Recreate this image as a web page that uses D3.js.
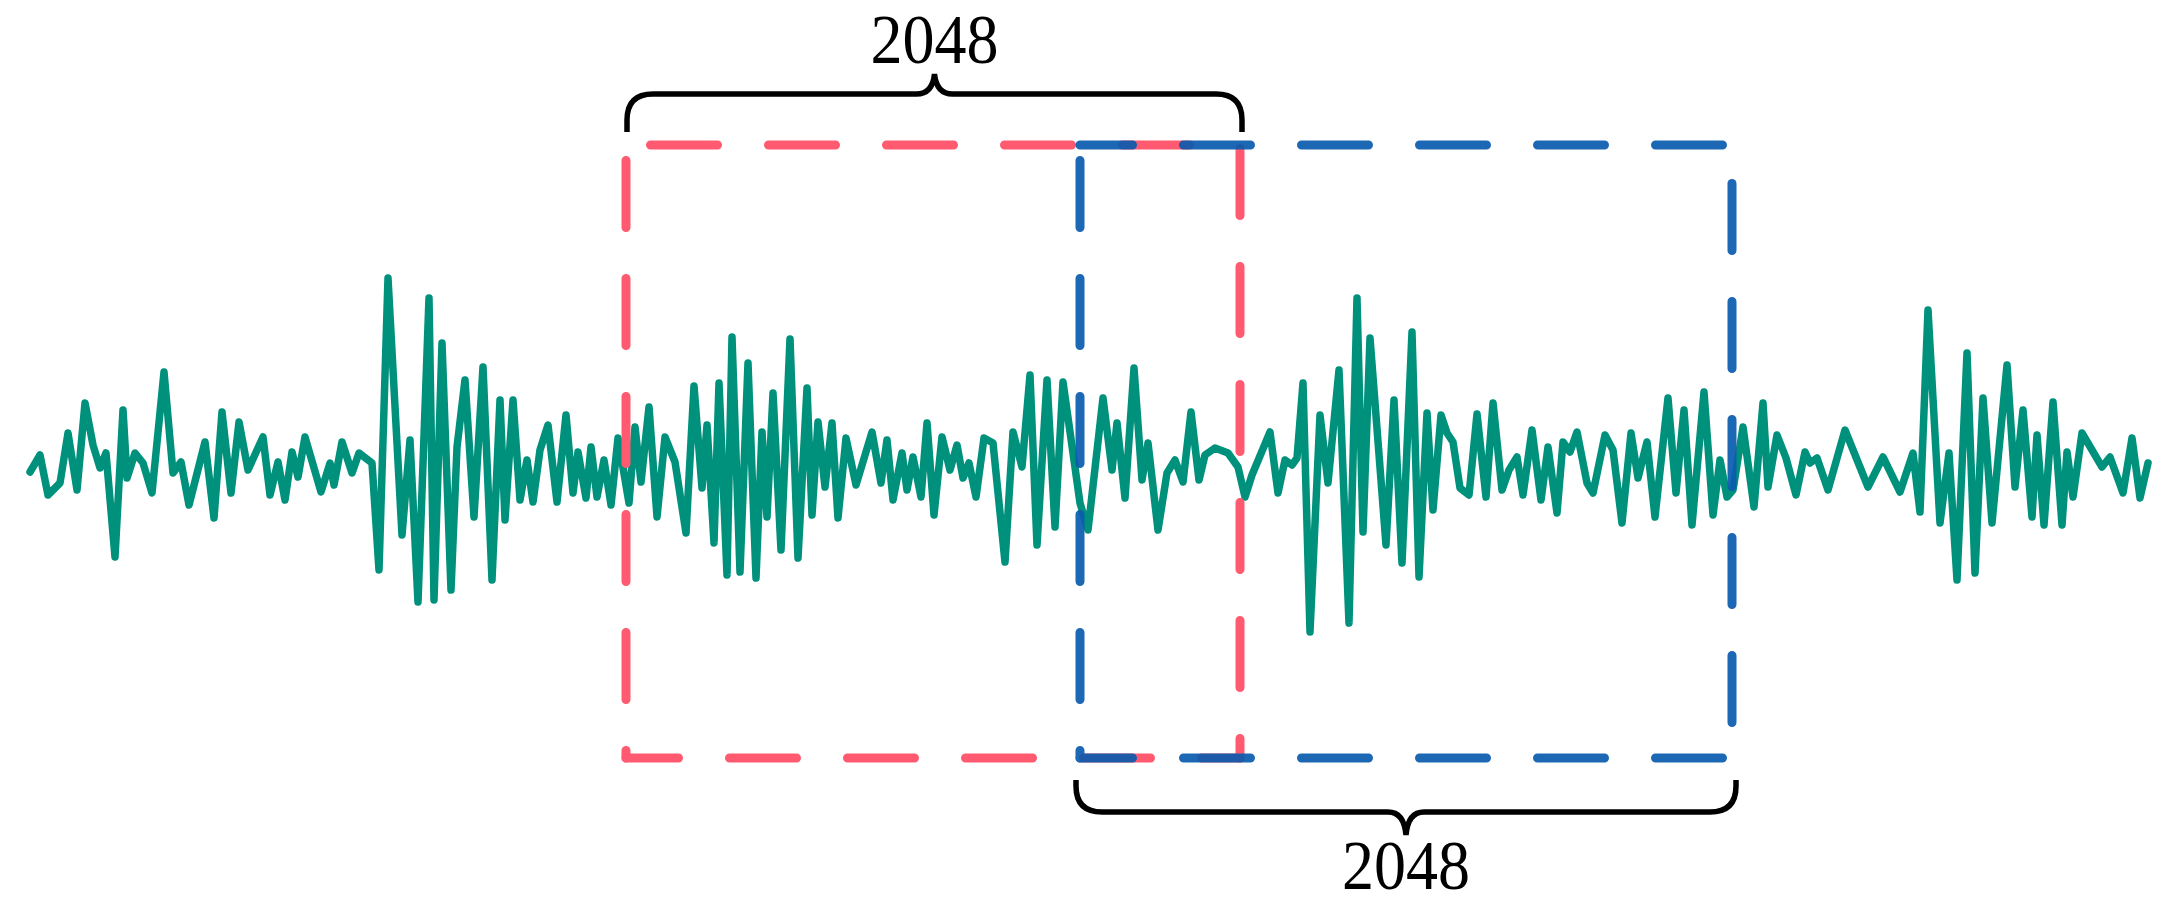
<!doctype html>
<html lang="en">
<head>
<meta charset="utf-8">
<script src="https://cdnjs.cloudflare.com/ajax/libs/d3/7.8.5/d3.min.js"></script>
<style>
  html, body { margin: 0; padding: 0; background: #fff; }
  svg { display: block; }
  .label { font-family: 'Liberation Serif', 'Times New Roman', serif; font-size: 69px; fill: #000; }
</style>
</head>
<body>
<script>

// signal (time in samples, amplitude in arbitrary units)
const sampleT = [0, 10, 18, 30, 38, 47, 55, 63, 70, 76, 85, 93, 97, 105, 113, 122, 134, 143, 151, 159,
  175, 184, 192, 201, 209, 218, 233, 240, 248, 255, 262, 268, 275, 291, 300, 304, 312, 322, 329, 342,
  349, 358, 372, 380, 388, 399, 404, 412, 421, 427, 435, 444, 453, 462, 470, 475, 483, 490, 497, 503,
  510, 518, 527, 536, 543, 548, 556, 561, 567, 574, 581, 588, 599, 605, 611, 619, 627, 635, 645, 656,
  664, 672, 677, 684, 689, 697, 702, 710, 718, 726, 732, 737, 743, 751, 760, 768, 777, 782, 788, 795,
  802, 808, 816, 826, 842, 851, 857, 863, 872, 877, 883, 891, 897, 904, 912, 920, 927, 933, 939, 946,
  954, 963, 975, 983, 992, 1000, 1007, 1017, 1025, 1033, 1050, 1058, 1073, 1082, 1087, 1095, 1104, 1112, 1118, 1128,
  1137, 1145, 1153, 1161, 1169, 1175, 1185, 1198, 1208, 1215, 1222, 1240, 1248, 1255, 1262, 1267, 1273, 1280, 1290, 1298,
  1309, 1319, 1327, 1333, 1340, 1356, 1364, 1372, 1382, 1389, 1397, 1403, 1411, 1417, 1423, 1430, 1439, 1447, 1456, 1463,
  1472, 1479, 1487, 1493, 1502, 1511, 1518, 1527, 1533, 1540, 1547, 1557, 1563, 1575, 1583, 1592, 1601, 1608, 1617, 1625,
  1638, 1646, 1654, 1662, 1674, 1683, 1690, 1697, 1703, 1713, 1724, 1733, 1738, 1747, 1756, 1766, 1775, 1780, 1787, 1798,
  1815, 1838, 1853, 1870, 1883, 1890, 1898, 1910, 1919, 1927, 1937, 1945, 1953, 1962, 1977, 1985, 1993, 2002, 2007, 2014,
  2023, 2032, 2037, 2043, 2052, 2062, 2072, 2080, 2093, 2102, 2110, 2118];

const amplitude = [-7, 10, -30, -18, 32, -25, 62, 20, -3, 12, -92, 55, -13, 12, 2, -28, 93, -8, 3, -40,
  23, -53, 53, -28, 43, -5, 28, -30, 3, -35, 13, -12, 28, -27, 2, -20, 23, -8, 12, 2,
  -105, 187, -70, 25, -137, 167, -135, 122, -125, 18, 85, -52, 98, -115, 65, -55, 65, -35, 5, -37,
  15, 40, -37, 50, -28, 13, -33, 18, -32, 5, -40, 27, -38, 38, -17, 58, -52, 28, 3, -68,
  79, -23, 40, -78, 82, -110, 128, -107, 102, -113, 33, -52, 72, -85, 126, -93, 77, -50, 43, -22,
  42, -53, 27, -20, 33, -18, 25, -35, 12, -25, 8, -32, 42, -50, 28, -5, 20, -13, 2, -32,
  27, 22, -97, 33, -2, 90, -80, 85, -62, 83, -38, -65, 67, -5, 42, -33, 97, -15, 22, -65,
  -8, 5, -17, 53, -15, 10, 17, 12, -2, -32, -10, 33, -28, 5, 0, 7, 82, -167, 50, -18,
  95, -158, 167, -67, 127, -80, 65, -98, 133, -112, 52, -45, 50, 32, 23, -23, -30, 51, -32, 62,
  -25, -5, 8, -30, 35, -35, 18, -48, 23, 13, 33, -18, -28, 30, 15, -58, 32, -13, 23, -52,
  67, -28, 55, -60, 73, -50, 5, -32, -25, 38, -42, 62, -22, 30, 7, -30, 13, 2, 7, -25,
  35, -22, 8, -27, 12, -47, 155, -58, 12, -115, 112, -108, 67, -58, 100, -22, 55, -52, 30, -60,
  63, -60, 13, -32, 32, 15, -2, 8, -28, 27, -33, 2];

// the two analysis windows
const windowColors = ["#ff5a70", "#0a5cae"];
const windowStart = [596, 1050];
const windowEnd = [1210, 1702];
const windowTop = [320, 320];
const windowBottom = [-293, -293];
const windowLabels = ["2048", "2048"];

const w = 2161;
const h = 907;

const svg = d3.select("body")
  .append("svg")
  .attr("width", w)
  .attr("height", h);

const xScale = d3.scaleLinear()
  .domain([0, 2118])
  .range([30, 2148]);

const yScale = d3.scaleLinear()
  .domain([-200, 200])
  .range([665, 265]);

const points = sampleT.map((t, i) => [t, amplitude[i]]);

const line = d3.line()
  .x(d => xScale(d[0]))
  .y(d => yScale(d[1]));

// waveform
svg.append("path")
  .datum(points)
  .attr("d", line)
  .attr("fill", "none")
  .attr("stroke", "#00917c")
  .attr("stroke-width", 7.5)
  .attr("stroke-linejoin", "round")
  .attr("stroke-linecap", "round");

// dashed window boxes, one line per side so the dash phase can be set
const dashOffsets = [
  { top: -24.5, bottom: 14.5, left: -15.5, right: -3.5 },
  { top: 14.5, bottom: 14.5, left: -15.5, right: -38.5 }
];

windowStart.forEach((s, i) => {
  const x0 = xScale(s), x1 = xScale(windowEnd[i]);
  const y0 = yScale(windowTop[i]), y1 = yScale(windowBottom[i]);
  const g = svg.append("g").attr("opacity", i == 1 ? 0.92 : 1);
  const sides = [
    ["top", x0, y0, x1, y0],
    ["bottom", x0, y1, x1, y1],
    ["left", x0, y0, x0, y1],
    ["right", x1, y0, x1, y1]
  ];
  sides.forEach(sd => {
    g.append("line")
      .attr("x1", sd[1]).attr("y1", sd[2])
      .attr("x2", sd[3]).attr("y2", sd[4])
      .attr("stroke", windowColors[i])
      .attr("stroke-width", 9)
      .attr("stroke-linecap", "round")
      .attr("stroke-dasharray", "67 51")
      .attr("stroke-dashoffset", dashOffsets[i][sd[0]]);
  });
});

// curly braces
let brace = (x0, x1, yEnd, yH, yTip) => {
  const dir = Math.sign(yEnd - yH);
  const r = 26, s = 18, xm = (x0 + x1) / 2;
  return "M" + x0 + "," + yEnd +
    " V" + (yH + dir * r) +
    " Q" + x0 + "," + yH + " " + (x0 + r) + "," + yH +
    " H" + (xm - s) +
    " Q" + (xm - 2) + "," + yH + " " + xm + "," + yTip +
    " Q" + (xm + 2) + "," + yH + " " + (xm + s) + "," + yH +
    " H" + (x1 - r) +
    " Q" + x1 + "," + yH + " " + x1 + "," + (yH + dir * r) +
    " V" + yEnd;
};

const braceLayout = [
  { pad0: 1, pad1: 2, yEnd: 132, yH: 94, yTip: 74, textY: 63 },
  { pad0: -4, pad1: 4, yEnd: 780, yH: 812, yTip: 835, textY: 889 }
];

windowStart.forEach((s, i) => {
  const b = braceLayout[i];
  const x0 = xScale(s) + b.pad0, x1 = xScale(windowEnd[i]) + b.pad1;
  svg.append("path")
    .attr("d", brace(x0, x1, b.yEnd, b.yH, b.yTip))
    .attr("fill", "none")
    .attr("stroke", "#000")
    .attr("stroke-width", 5.5);

  svg.append("text")
    .attr("class", "label")
    .attr("x", (x0 + x1) / 2)
    .attr("y", b.textY)
    .attr("text-anchor", "middle")
    .attr("textLength", 128)
    .attr("lengthAdjust", "spacingAndGlyphs")
    .text(windowLabels[i]);
});

</script>
</body>
</html>
